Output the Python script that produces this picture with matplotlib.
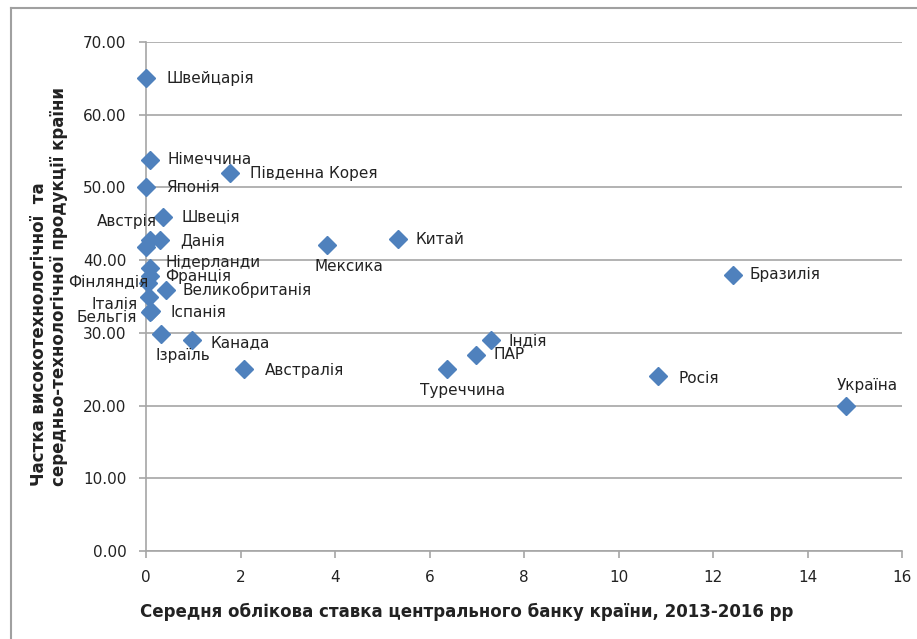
import matplotlib
matplotlib.use("Agg")
import matplotlib.pyplot as plt
from matplotlib.lines import Line2D
from matplotlib.ticker import FormatStrFormatter

# avg central bank rate 2013-2016 vs share of high/medium-tech exports
countries = ["Швейцарія", "Німеччина", "Японія", "Південна Корея", "Швеція", "Австрія",
             "Данія", "", "Мексика", "Китай", "Бразилія", "Нідерланди", "Франція",
             "Фінляндія", "Великобританія", "Італія", "Бельгія", "Іспанія", "Ізраїль",
             "Канада", "Австралія", "Туреччина", "ПАР", "Індія", "Росія", "Україна"]
rate = [0.0, 0.08, 0.0, 1.78, 0.36, 0.08,
        0.3, 0.0, 3.83, 5.33, 12.42, 0.08, 0.08,
        0.04, 0.42, 0.06, 0.08, 0.1, 0.32,
        0.97, 2.07, 6.37, 6.98, 7.3, 10.84, 14.81]
share = [65.0, 53.8, 50.0, 52.0, 46.0, 42.8,
         42.8, 41.8, 42.1, 42.9, 38.0, 38.9, 37.8,
         36.9, 35.9, 34.9, 32.9, 33.0, 29.8,
         29.0, 25.0, 25.0, 27.0, 29.0, 24.0, 20.0]

xticks = [0, 2, 4, 6, 8, 10, 12, 14, 16]
yticks = [0, 10, 20, 30, 40, 50, 60, 70]

# label offsets in pixels (dx, dy up) and horizontal alignment
label_pos = {
    "Швейцарія": (20, 0, "left"), "Німеччина": (18, 0, "left"), "Японія": (20, 0, "left"),
    "Південна Корея": (20, -1, "left"), "Швеція": (18, 0, "left"), "Австрія": (7, 18, "right"),
    "Данія": (20, -1, "left"), "Мексика": (22, -22, "center"), "Китай": (18, 0, "left"),
    "Бразилія": (17, 0, "left"), "Нідерланди": (16, 6, "left"), "Франція": (15, 0, "left"),
    "Фінляндія": (0, 1, "right"), "Великобританія": (17, 0, "left"), "Італія": (-11, -7, "right"),
    "Бельгія": (-13, -6, "right"), "Іспанія": (20, -1, "left"), "Ізраїль": (22, -21, "center"),
    "Канада": (19, -3, "left"), "Австралія": (21, -1, "left"), "Туреччина": (16, -21, "center"),
    "ПАР": (18, 0, "left"), "Індія": (18, -1, "left"), "Росія": (20, -2, "left"),
    "Україна": (21, 20, "center"),
}

W, H = 917, 639
fig = plt.figure(figsize=(W / 100, H / 100), dpi=100)
ax = fig.add_axes([146 / W, (H - 551) / H, 756 / W, 509 / H])

ax.plot(rate, share, linestyle="none", marker="D", markersize=9,
        color="#4F81BD", markeredgecolor="#4F81BD", zorder=3, clip_on=False)

for name, x, y in zip(countries, rate, share):
    if not name:
        continue
    dx, dy, ha = label_pos[name]
    ax.annotate(name, (x, y), xytext=(dx, dy), textcoords="offset pixels",
                ha=ha, va="center", fontsize=11, color="#222222")

ax.set_xlim(0, 16)
ax.set_ylim(0, 70)
ax.set_xticks(xticks)
ax.set_yticks(yticks)
ax.yaxis.set_major_formatter(FormatStrFormatter("%.2f"))
ax.grid(True, axis="y", color="#A6A6A6", linewidth=1.2)
ax.set_axisbelow(True)
for s in ["top", "right"]:
    ax.spines[s].set_visible(False)
for s in ["left", "bottom"]:
    ax.spines[s].set_color("#A6A6A6")
    ax.spines[s].set_linewidth(1.2)
ax.tick_params(axis="both", direction="out", length=5, color="#A6A6A6", width=1.2,
               labelsize=11, labelcolor="#222222")
ax.tick_params(axis="x", pad=9)
ax.tick_params(axis="y", pad=9)

fig.text(140 / W, 1 - 612 / H, "Середня облікова ставка центрального банку країни, 2013-2016 рр",
         ha="left", va="center", fontsize=12, fontweight="bold", color="#222222")
fig.text(49 / W, 1 - 286 / H, "Частка високотехнологічної  та\nсередньо-технологічної продукції країни",
         rotation=90, ha="center", va="center", multialignment="left",
         fontsize=12, fontweight="bold", color="#222222")

# chart border (left and top edges visible)
fig.add_artist(Line2D([11 / W, 11 / W], [0, 1 - 8 / H], transform=fig.transFigure,
                      color="#A0A0A0", linewidth=1.5))
fig.add_artist(Line2D([11 / W, 1], [1 - 8 / H, 1 - 8 / H], transform=fig.transFigure,
                      color="#A0A0A0", linewidth=1.5))

fig.savefig("out.png", dpi=100)
